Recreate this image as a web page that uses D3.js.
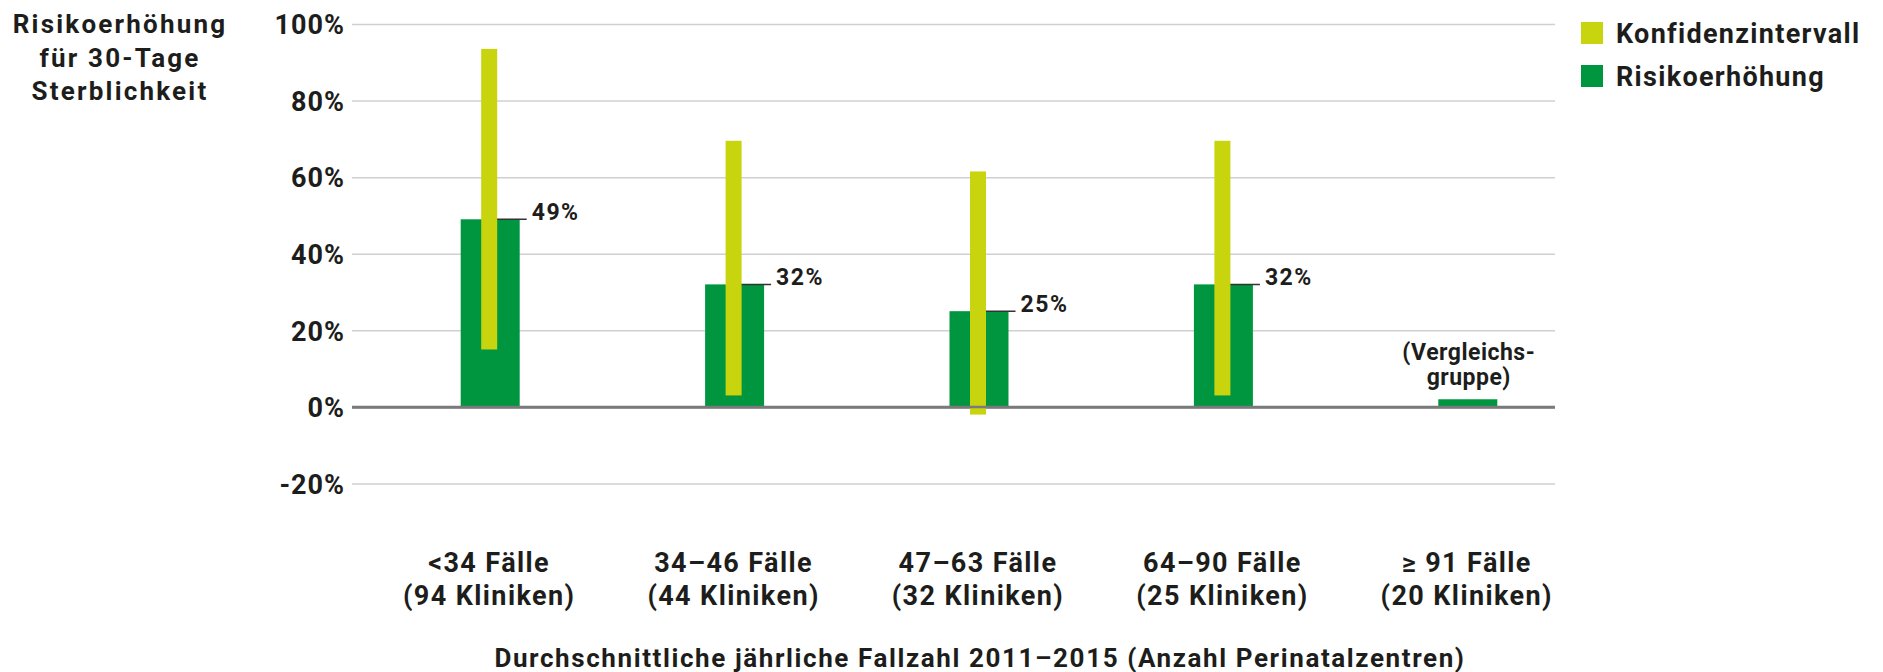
<!DOCTYPE html>
<html>
<head>
<meta charset="utf-8">
<script src="https://cdn.jsdelivr.net/npm/d3@7"></script>
<style>
  body { margin: 0; background: #fff; }
  text { font-family: Roboto, "Noto Sans", sans-serif; font-weight: 700; fill: #1d1d1b; }
</style>
</head>
<body>
<div id="chart"></div>
<script>
// Data
const categories = ["<34", "34-46", "47-63", "64-90", ">=91"];
const labelLine1 = ["<34 Fälle", "34–46 Fälle", "47–63 Fälle", "64–90 Fälle", "≥ 91 Fälle"];
const labelLine2 = ["(94 Kliniken)", "(44 Kliniken)", "(32 Kliniken)", "(25 Kliniken)", "(20 Kliniken)"];
const riskValues = [49, 32, 25, 32, 2];
const ciLow = [15, 3, -2, 3, null];
const ciHigh = [93.5, 69.5, 61.5, 69.5, null];
const valueLabels = ["49%", "32%", "25%", "32%", null];
const yTicks = [-20, 0, 20, 40, 60, 80, 100];

const width = 1883;
const height = 672;
const gridLeft = 352, gridRight = 1555;

const green = "#00963f";
const yellow = "#c8d40e";

const svg = d3.select("#chart")
    .append("svg")
    .attr("width", width)
    .attr("height", height);

// Scales
const yScale = d3.scaleLinear()
    .domain([-20, 100])
    .range([483.5, 24]);

const xScale = d3.scaleBand()
    .domain(categories)
    .range([368, 1590])
    .padding(0);

const center = c => xScale(c) + xScale.bandwidth() / 2;

// Y axis with gridlines
const yAxis = d3.axisLeft(yScale)
    .tickValues(yTicks)
    .tickSize(-(gridRight - gridLeft))
    .tickPadding(7)
    .tickFormat(d => d + "%");

const yg = svg.append("g")
    .attr("class", "y-axis")
    .attr("transform", `translate(${gridLeft},0)`)
    .call(yAxis);
yg.select(".domain").remove();
yg.selectAll(".tick line")
    .attr("stroke", d => d === 0 ? "#7a7a7a" : "#d0d0d0")
    .attr("stroke-width", d => d === 0 ? 2.5 : 1.5);
yg.selectAll(".tick text")
    .attr("font-size", 27)
    .attr("dy", "0.36em")
    .style("font-family", "Roboto, sans-serif")
    .style("font-weight", 700)
    .style("letter-spacing", "1px")
    .attr("fill", "#1d1d1b");

const data = categories.map((c, i) => ({
    cat: c, value: riskValues[i], lo: ciLow[i], hi: ciHigh[i], label: valueLabels[i]
}));

// Green bars
const barW = 59;
svg.selectAll(".bar")
    .data(data)
    .enter().append("rect")
    .attr("class", "bar")
    .attr("x", d => center(d.cat) - barW / 2)
    .attr("width", barW)
    .attr("y", d => yScale(d.value))
    .attr("height", d => yScale(0) - yScale(d.value))
    .attr("fill", green);

// Label leader lines
const withCI = data.filter(d => d.lo !== null);
svg.selectAll(".leader")
    .data(withCI)
    .enter().append("line")
    .attr("x1", d => center(d.cat))
    .attr("x2", d => center(d.cat) + barW / 2 + 7)
    .attr("y1", d => yScale(d.value))
    .attr("y2", d => yScale(d.value))
    .attr("stroke", "#333")
    .attr("stroke-width", 1.5);

// Yellow confidence intervals
const ciW = 16;
svg.selectAll(".ci")
    .data(withCI)
    .enter().append("rect")
    .attr("class", "ci")
    .attr("x", d => center(d.cat) - ciW / 2 - 1)
    .attr("width", ciW)
    .attr("y", d => yScale(d.hi))
    .attr("height", d => yScale(d.lo) - yScale(d.hi))
    .attr("fill", yellow);

// Zero line redrawn over the bars
svg.append("line")
    .attr("x1", gridLeft)
    .attr("x2", gridRight)
    .attr("y1", yScale(0))
    .attr("y2", yScale(0))
    .attr("stroke", "#7a7a7a")
    .attr("stroke-width", 2.5);

// Value labels
svg.selectAll(".vlabel")
    .data(withCI)
    .enter().append("text")
    .attr("class", "vlabel")
    .attr("x", d => center(d.cat) + barW / 2 + 12)
    .attr("y", d => yScale(d.value) + 1)
    .attr("font-size", 23)
    .style("letter-spacing", "1.5px")
    .text(d => d.label);

// Comparison group label
const last = categories[categories.length - 1];
["(Vergleichs-", "gruppe)"].forEach((t, i) => {
    svg.append("text")
        .attr("x", center(last) + 1)
        .attr("y", 360 + i * 25)
        .attr("text-anchor", "middle")
        .attr("font-size", 23)
        .style("letter-spacing", "0.5px")
        .text(t);
});

// X category labels
[labelLine1, labelLine2].forEach((lines, row) => {
    svg.selectAll(".xl" + row)
        .data(categories)
        .enter().append("text")
        .attr("x", d => center(d) - 1)
        .attr("y", 572 + row * 33)
        .attr("text-anchor", "middle")
        .attr("font-size", 27)
        .style("letter-spacing", "1.4px")
        .text((d, i) => lines[i]);
});

// X axis title
svg.append("text")
    .attr("x", 980)
    .attr("y", 667)
    .attr("text-anchor", "middle")
    .attr("font-size", 26)
    .style("letter-spacing", "1.6px")
    .text("Durchschnittliche jährliche Fallzahl 2011–2015 (Anzahl Perinatalzentren)");

// Y axis title
const yTitle = ["Risikoerhöhung", "für 30-Tage", "Sterblichkeit"];
svg.selectAll(".ytitle")
    .data(yTitle)
    .enter().append("text")
    .attr("x", 120)
    .attr("y", (d, i) => 33 + i * 33.5)
    .attr("text-anchor", "middle")
    .attr("font-size", 26)
    .style("letter-spacing", "2.2px")
    .text(d => d);

// Legend
const legend = [
    { name: "Konfidenzintervall", color: yellow },
    { name: "Risikoerhöhung", color: green }
];
const lg = svg.selectAll(".legend")
    .data(legend)
    .enter().append("g")
    .attr("transform", (d, i) => `translate(1581,${22 + i * 43})`);
lg.append("rect")
    .attr("width", 22)
    .attr("height", 22)
    .attr("fill", d => d.color);
lg.append("text")
    .attr("x", 35)
    .attr("y", 21)
    .attr("font-size", 27)
    .style("letter-spacing", "1.3px")
    .text(d => d.name);
</script>
</body>
</html>
